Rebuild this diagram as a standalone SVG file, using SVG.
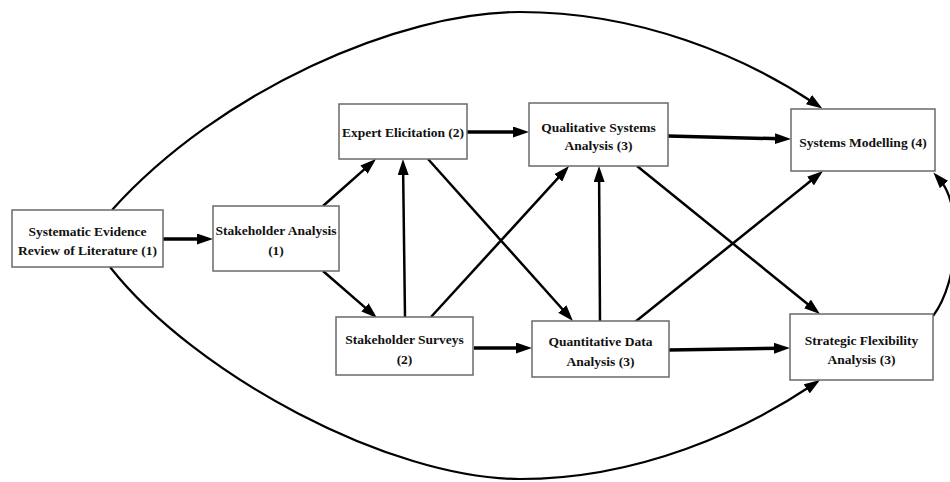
<svg xmlns="http://www.w3.org/2000/svg" width="950" height="482" viewBox="0 0 950 482">
<style>
  .box { fill: #ffffff; stroke: #6a6a6a; stroke-width: 1.5; }
  .lbl { font-family: "Liberation Serif", "Times New Roman", serif; font-weight: bold; font-size: 13.5px; fill: #111111; text-anchor: middle; }
  .thick { stroke: #000; stroke-width: 3.5; fill: none; marker-end: url(#ah); }
  .mid { stroke: #000; stroke-width: 2.5; fill: none; marker-end: url(#ah); }
  .curve { stroke: #000; stroke-width: 2.2; fill: none; marker-end: url(#ah); }
</style>
<defs>
  <marker id="ah" markerUnits="userSpaceOnUse" markerWidth="16" markerHeight="11" refX="6" refY="5.5" orient="auto">
    <path d="M0,0 L16,5.5 L0,11 z" fill="#000"/>
  </marker>
</defs>
<rect width="950" height="482" fill="#ffffff"/>
<g id="connectors">
  <path class="curve" d="M112,210 C220,90 400,12 520,12 C640,12 745,57 814,103"/>
  <path class="curve" d="M110,267 C195,375 390,479 520,479 C640,479 745,430 811.7,385.5"/>
  <path class="curve" d="M933,316 C960,280 962,205 940,180"/>
  <line class="thick" x1="163" y1="239" x2="203" y2="239"/>
  <line class="mid" x1="323" y1="206" x2="368.5" y2="165.6"/>
  <line class="mid" x1="323" y1="271" x2="369.5" y2="311.4"/>
  <line class="mid" x1="405" y1="317" x2="403.1" y2="169"/>
  <line class="mid" x1="428" y1="159" x2="566.3" y2="313.5"/>
  <line class="mid" x1="431" y1="317" x2="562.3" y2="173.4"/>
  <line class="thick" x1="467" y1="132" x2="519" y2="132"/>
  <line class="thick" x1="668" y1="136" x2="781" y2="138.8"/>
  <line class="mid" x1="600" y1="321" x2="599.1" y2="176"/>
  <line class="mid" x1="637" y1="166" x2="812.2" y2="307.7"/>
  <line class="mid" x1="635" y1="322" x2="815.2" y2="177.3"/>
  <line class="thick" x1="474" y1="348" x2="522" y2="348"/>
  <line class="thick" x1="669" y1="350" x2="780" y2="348.2"/>
</g>
<g id="systematic-review">
  <rect class="box" x="12" y="210" width="151" height="57"/>
  <text class="lbl" x="87.5" y="235.5">Systematic Evidence</text>
  <text class="lbl" x="87.5" y="254.5">Review of Literature (1)</text>
</g>
<g id="stakeholder-analysis">
  <rect class="box" x="213" y="206" width="126" height="65"/>
  <text class="lbl" x="276" y="234.5">Stakeholder Analysis</text>
  <text class="lbl" x="276" y="254.5">(1)</text>
</g>
<g id="expert-elicitation">
  <rect class="box" x="339" y="104" width="128" height="55"/>
  <text class="lbl" x="403" y="136.5">Expert Elicitation (2)</text>
</g>
<g id="stakeholder-surveys">
  <rect class="box" x="336" y="317" width="137" height="58"/>
  <text class="lbl" x="404.5" y="343.5">Stakeholder Surveys</text>
  <text class="lbl" x="404.5" y="363.5">(2)</text>
</g>
<g id="qualitative-systems">
  <rect class="box" x="529" y="103" width="139" height="63"/>
  <text class="lbl" x="598.5" y="131.5">Qualitative Systems</text>
  <text class="lbl" x="598.5" y="150">Analysis (3)</text>
</g>
<g id="quantitative-data">
  <rect class="box" x="532" y="321" width="137" height="56"/>
  <text class="lbl" x="600.5" y="345.5">Quantitative Data</text>
  <text class="lbl" x="600.5" y="365.5">Analysis (3)</text>
</g>
<g id="systems-modelling">
  <rect class="box" x="791" y="109" width="144" height="62"/>
  <text class="lbl" x="863" y="146.5">Systems Modelling (4)</text>
</g>
<g id="strategic-flexibility">
  <rect class="box" x="790" y="314" width="143" height="66"/>
  <text class="lbl" x="861.5" y="344.5">Strategic Flexibility</text>
  <text class="lbl" x="861.5" y="363.5">Analysis (3)</text>
</g>
</svg>
